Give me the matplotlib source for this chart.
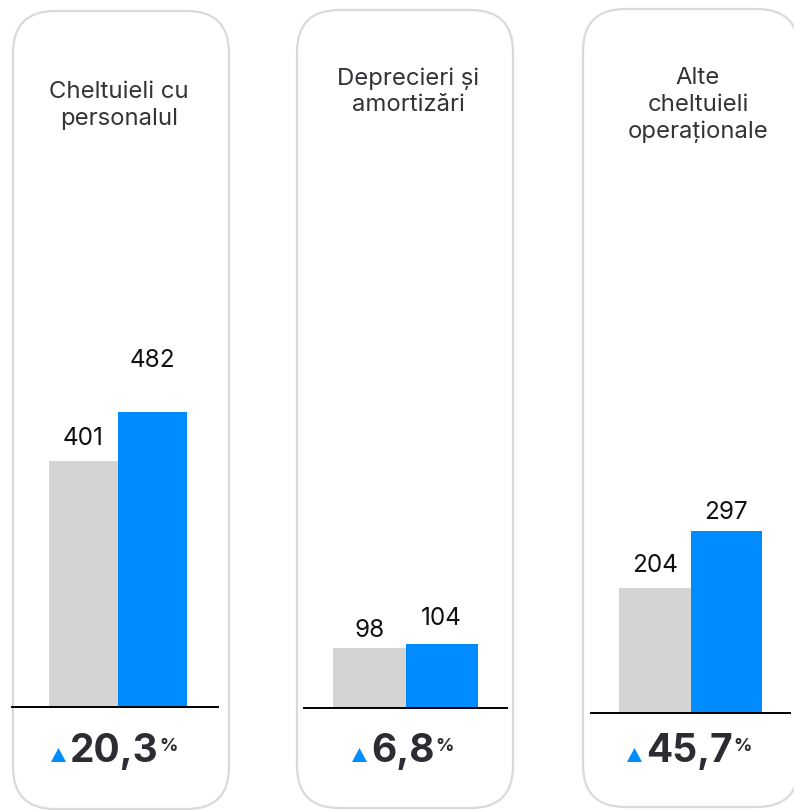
import matplotlib
matplotlib.use("Agg")
import matplotlib.pyplot as plt
from matplotlib.patches import FancyBboxPatch, Polygon

# data
categories = ["Cheltuieli cu\npersonalul", "Deprecieri și\namortizări", "Alte\ncheltuieli\noperaționale"]
prev_values = [401, 98, 204]
curr_values = [482, 104, 297]
changes = ["20,3", "6,8", "45,7"]

GREY = "#d4d4d4"
BLUE = "#008cff"
TXT = "#333338"

plt.rcParams['font.family'] = ['Inter', 'DejaVu Sans']

W, H = 794, 810
PX = 0.613  # pixels per value unit, same scale in every panel

# layout of each panel, in pixels
panels = [
    dict(box=(13, 11), line=(12, 218), bars=(49, 187), base=707, title=(119, 81), pad=(16, 45), pct=51),
    dict(box=(297, 10), line=(304, 507), bars=(333, 478), base=708, title=(408, 67), pad=(11, 19), pct=352),
    dict(box=(583, 9), line=(591, 790), bars=(619, 762), base=713, title=(698, 67), pad=(16, 12), pct=627),
]

fig = plt.figure(figsize=(W / 100, H / 100), dpi=100)
bg = fig.add_axes([0, 0, 1, 1])
bg.set_xlim(0, W)
bg.set_ylim(H, 0)
bg.axis('off')

num_texts = []
for i, p in enumerate(panels):
    bx, by = p['box']
    box = FancyBboxPatch((bx, by), 216, 798, boxstyle="round,pad=0,rounding_size=42",
                         fc="white", ec="#dadada", lw=1.6)
    bg.add_patch(box)

    tx, ty = p['title']
    bg.text(tx, ty, categories[i], ha='center', va='top', fontsize=17.2,
            color=TXT, linespacing=1.27)

    # bar axes
    l, r = p['line']
    bl, br = p['bars']
    top = 40
    h = p['base'] - top
    ax = fig.add_axes([l / W, 1 - p['base'] / H, (r - l) / W, h / H])
    ax.patch.set_alpha(0)
    ax.axis('off')
    u = (br - bl) / 2
    ax.set_xlim(-0.5 - (bl - l) / u, 1.5 + (r - br) / u)
    ax.set_ylim(0, h / PX)
    vals = [prev_values[i], curr_values[i]]
    ax.bar([0, 1], vals, width=1, color=[GREY, BLUE])
    ax.axhline(0, color='black', lw=1.4, clip_on=False)
    for k, v in enumerate(vals):
        ax.annotate(str(v), (k, v), xytext=(0, p['pad'][k] * 0.72), textcoords='offset points',
                    ha='center', va='baseline', fontsize=17.5, color='#111111')

    # percentage change
    x0 = p['pct']
    bg.add_patch(Polygon([(x0, 762), (x0 + 15, 762), (x0 + 7.5, 748)], closed=True,
                         fc=BLUE, ec='none'))
    t = bg.text(x0 + 19, 762, changes[i], ha='left', va='baseline', fontsize=28,
                fontweight='bold', color="#2c2c33")
    num_texts.append(t)

fig.canvas.draw()
renderer = fig.canvas.get_renderer()
for t in num_texts:
    bb = t.get_window_extent(renderer)
    bg.text(bb.x1 + 1, 751, "%", ha='left', va='baseline', fontsize=13,
            fontweight='bold', color="#2c2c33")

fig.savefig("out.png", dpi=100)
